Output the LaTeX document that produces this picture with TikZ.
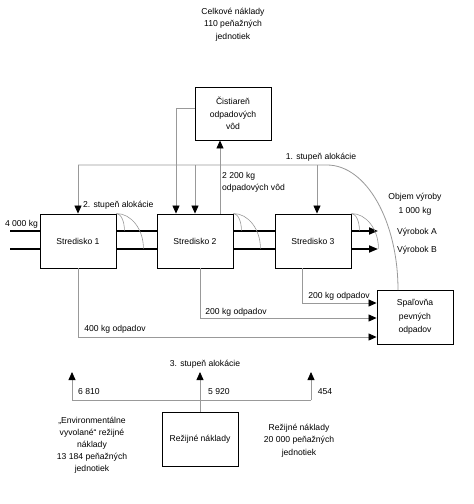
\documentclass[tikz,border=0pt]{standalone}
\usepackage{fontspec}
\setmainfont{Liberation Sans}
\usetikzlibrary{arrows.meta}
\begin{document}
\begin{tikzpicture}[x=1pt,y=-1pt,
  every node/.style={font=\fontsize{8.6}{12.5}\selectfont,inner sep=0pt},
  box/.style={draw=black,line width=0.9pt,minimum width=76pt,minimum height=54pt,align=center,fill=white},
  gl/.style={draw=black!40,line width=0.8pt},
  flow/.style={draw=black,line width=1.8pt},
  tip/.style={-{Triangle[width=7pt,length=8pt,color=black]}},
  lbl/.style={align=center}]
\useasboundingbox (0,0) rectangle (474,504);

% boxes
\node[box] (S1) at (78,241) {Stredisko 1};
\node[box] (S2) at (195,241) {Stredisko 2};
\node[box] (S3) at (313,241) {Stredisko 3};
\node[box,minimum height=53pt,font=\fontsize{8.6}{12.7}\selectfont] (C) at (233,113.5) {Čistiareň\\odpadových\\vôd};
\node[box,font=\fontsize{8.6}{13.5}\selectfont] (Sp) at (415,317) {Spaľovňa\\pevných\\odpadov};
\node[box] (R) at (200,439) {Režijné náklady};

% coordinates
\coordinate (t1) at (78,165);
\coordinate (t2) at (195,165);
\coordinate (t3) at (317,165);
\coordinate (t4) at (327,165);
\coordinate (cw) at (176,108);
\coordinate (u) at (220,180);
\coordinate (in1) at (10,231);
\coordinate (in2) at (10,249);
\coordinate (outA) at (378,231);
\coordinate (outB) at (378,249);
\coordinate (w1) at (78,337);
\coordinate (w2) at (200,318);
\coordinate (w3) at (302,303);
\coordinate (b1) at (72,400);
\coordinate (b3) at (311,400);
\coordinate (a1) at (72,372);
\coordinate (a3) at (311,372);

% 1st stage allocation
\draw[gl] (t1) -- (t4) arc[start angle=-90,end angle=0,x radius=71,y radius=125];
\draw[gl,tip] (t1) -- (S1.north);
\draw[gl,tip] (t2) -- (t2 |- S2.north);
\draw[gl,tip] (t3) -- (t3 |- S3.north);
\draw[gl,tip] (C.west |- cw) -| (cw |- S2.north);
\draw[gl,tip] (u |- S2.north) -- (u |- C.south);

% flows
\draw[flow] (in1) -- (in1 -| S1.west);
\draw[flow] (in2) -- (in2 -| S1.west);
\draw[flow] (S1.east |- in1) -- (S2.west |- in1);
\draw[flow] (S1.east |- in2) -- (S2.west |- in2);
\draw[flow] (S2.east |- in1) -- (S3.west |- in1);
\draw[flow] (S2.east |- in2) -- (S3.west |- in2);
\draw[flow,-{Triangle[width=7pt,length=9pt]}] (S3.east |- in1) -- (outA);
\draw[flow,-{Triangle[width=7pt,length=9pt]}] (S3.east |- in2) -- (outB);

% small arcs
\foreach \b in {S1,S2,S3}{
  \draw[gl,line width=0.6pt] (\b.north east) arc[start angle=-90,end angle=0,x radius=8,y radius=17];
  \draw[gl,line width=0.6pt] (\b.north east) arc[start angle=-90,end angle=0,x radius=27,y radius=35];
}

% waste
\draw[gl,tip] (S1.south) |- (Sp.west |- w1);
\draw[gl,tip] (w2 |- S2.south) |- (Sp.west |- w2);
\draw[gl,tip] (w3 |- S3.south) |- (Sp.west |- w3);

% 3rd stage
\draw[gl] (b1) -- (b3);
\draw[gl,tip] (b1) -- (a1);
\draw[gl,tip] (b3) -- (a3);
\draw[gl,tip] (R.north) -- (R.north |- a1);

% labels
\node[lbl] (tt) at (233,24.5) {Celkové náklady\\110 peňažných\\jednotiek};
\node (l1) at (321,157) {1. stupeň alokácie};
\node[anchor=west,align=left,font=\fontsize{8.6}{12}\selectfont] (lw) at (222,182) {2 200 kg\\odpadových vôd};
\node[anchor=west] (l2) at (83,205) {2. stupeň alokácie};
\node (lin) at (21.5,224) {4 000 kg};
\node[lbl,font=\fontsize{8.6}{13.5}\selectfont] (lo) at (415,204) {Objem výroby\\1 000 kg};
\node (lA) at (417,232) {Výrobok A};
\node (lB) at (417,250) {Výrobok B};
\node (k3) at (339,296) {200 kg odpadov};
\node (k2) at (236,312) {200 kg odpadov};
\node (k1) at (115,329) {400 kg odpadov};
\node (l3) at (205,364) {3. stupeň alokácie};
\node (n1) at (89,392) {6 810};
\node (n2) at (219,392) {5 920};
\node (n3) at (325,392) {454};
\node[lbl,font=\fontsize{8.6}{12}\selectfont] (le) at (92,445) {„Environmentálne\\vyvolané“ režijné\\náklady\\13 184 peňažných\\jednotiek};
\node[lbl] (lr) at (299,440.5) {Režijné náklady\\20 000 peňažných\\jednotiek};
\end{tikzpicture}
\end{document}
